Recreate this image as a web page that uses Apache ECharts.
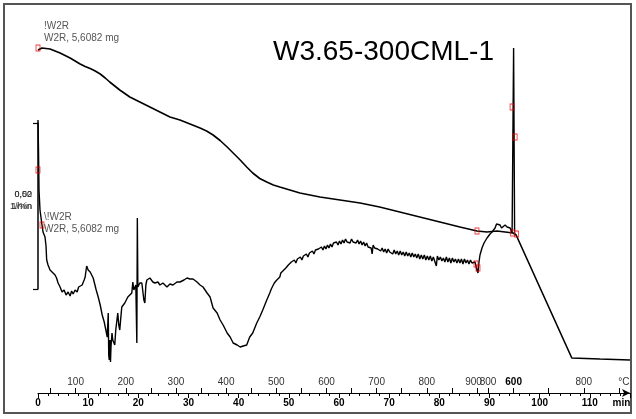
<!DOCTYPE html>
<html><head><meta charset="utf-8">
<script src="https://cdn.jsdelivr.net/npm/echarts@6/dist/echarts.min.js"></script>
<style>html,body{margin:0;padding:0;background:#fff}#c{width:636px;height:419px}</style>
</head><body><div id="c"></div>
<script>
// ---- data (time in min) ----
var tgTime  = [0,0.8,2.4,4.4,6.4,8.4,9.4,10.4,11.4,12.4,13.4,14.3,15.3,16.3,18.3,20.3,22.3,24.3,26.3,28.3,30.3,32.3,33.6,34.9,36.3,37.7,39.0,40.3,41.6,42.8,44.2,45.6,46.9,48.2,50.2,52.2,56.2,60.2,64.2,68.1,72.1,76.1,80.1,84.1,87.5,89.5,91.5,93.1,94.7,95.3,106.4,112.0,118.0];
var tgValue = [99.6,100,99.8,99.0,98.0,96.8,96.3,95.9,95.4,94.8,94.0,93.2,92.4,91.6,90.2,89.2,88.2,87.2,86.2,85.6,84.8,84.0,83.4,82.6,81.5,80.2,78.9,77.6,76.2,75.0,73.9,73.2,72.6,72.2,71.6,71.0,70.2,69.6,69.0,68.2,67.2,66.2,65.2,64.2,63.4,63.2,63.4,63.2,63.0,62.6,38.0,37.8,37.6];

var dtgTime = [0,0.1,0.2,0.4,0.74,1.0,1.4,1.6,1.73,2.0,2.4,2.8,3.1,3.4,3.7,4.0,4.4,4.8,5.2,5.6,6.0,6.4,6.7,7.0,7.4,7.8,8.1,8.4,8.8,9.2,9.4,9.7,10.0,10.4,11.0,11.6,12.0,12.4,12.8,13.2,13.4,13.8,14.0,14.1,14.2,14.35,14.45,14.55,14.75,14.9,15.3,15.5,15.9,16.1,16.3,16.5,16.7,17.3,17.9,18.3,18.7,18.9,19.1,19.3,19.5,19.7,19.8,19.9,20.3,20.7,21.1,21.3,21.5,21.7,22.3,22.9,23.3,23.9,24.3,24.9,25.7,26.3,26.9,27.7,28.3,29.1,29.7,30.3,30.9,31.7,32.3,32.9,33.7,34.3,34.9,35.7,36.3,36.9,37.7,38.3,38.9,39.7,40.3,40.9,41.6,42.2,42.8,43.6,44.2,44.8,45.6,46.2,46.5,46.8,47.1,47.4,47.6,47.9,48.2,48.4,48.6,48.8,49.1,49.4,49.6,49.9,50.2,50.5,50.8,51.1,51.4,51.7,52.0,52.3,52.6,52.9,53.2,53.5,53.8,54.1,54.4,54.7,55.0,55.3,55.6,55.9,56.2,56.5,56.8,57.1,57.4,57.7,58.0,58.3,58.6,58.9,59.2,59.5,59.8,60.1,60.4,60.7,61.0,61.3,61.6,61.9,62.2,62.5,62.8,63.1,63.4,63.7,64.0,64.3,64.6,64.9,65.2,65.5,65.8,66.1,66.4,66.6,66.8,67.1,67.4,67.7,68.0,68.3,68.6,68.9,69.2,69.5,69.8,70.1,70.4,70.7,71.0,71.3,71.6,71.9,72.2,72.5,72.8,73.1,73.4,73.7,74.0,74.3,74.6,74.9,75.2,75.5,75.8,76.1,76.4,76.7,77.0,77.3,77.6,77.9,78.2,78.5,78.8,79.1,79.4,79.6,79.9,80.2,80.5,80.8,81.1,81.4,81.7,82.0,82.3,82.6,82.9,83.2,83.5,83.8,84.1,84.4,84.7,85.0,85.3,85.6,85.9,86.2,86.5,86.8,87.1,87.3,87.5,87.7,87.9,88.1,88.5,88.9,89.5,90.1,90.5,91.1,91.4,91.7,92.1,92.4,92.7,93.1,93.5,93.8,94.1,94.5,94.8,95.0];
var dtgValue = [-1.16,-1.46,-1.86,-2.06,-2.19,-2.28,-2.33,-2.42,-2.56,-2.61,-2.66,-2.68,-2.66,-2.71,-2.74,-2.79,-2.83,-2.88,-2.86,-2.91,-2.88,-2.92,-2.87,-2.90,-2.86,-2.88,-2.83,-2.84,-2.81,-2.76,-2.73,-2.62,-2.66,-2.68,-2.74,-2.86,-2.93,-3.01,-3.11,-3.18,-3.23,-3.33,-3.09,-3.51,-3.56,-3.36,-3.58,-3.43,-3.29,-3.36,-3.41,-3.26,-3.09,-3.21,-3.26,-3.14,-3.03,-2.99,-2.93,-2.91,-2.89,-2.78,-2.86,-2.84,-2.81,-3.39,-2.14,-2.83,-2.79,-2.79,-2.96,-2.99,-2.81,-2.76,-2.74,-2.78,-2.79,-2.78,-2.81,-2.79,-2.83,-2.80,-2.81,-2.78,-2.78,-2.76,-2.74,-2.75,-2.75,-2.78,-2.81,-2.83,-2.89,-2.93,-3.04,-3.09,-3.16,-3.21,-3.29,-3.33,-3.39,-3.41,-3.43,-3.42,-3.41,-3.33,-3.29,-3.19,-3.13,-3.06,-2.96,-2.89,-2.85,-2.83,-2.79,-2.80,-2.76,-2.74,-2.73,-2.69,-2.71,-2.67,-2.68,-2.64,-2.66,-2.61,-2.63,-2.58,-2.60,-2.56,-2.59,-2.55,-2.57,-2.53,-2.56,-2.52,-2.54,-2.50,-2.53,-2.49,-2.51,-2.47,-2.50,-2.46,-2.48,-2.45,-2.47,-2.43,-2.46,-2.42,-2.45,-2.41,-2.44,-2.40,-2.43,-2.39,-2.41,-2.38,-2.41,-2.37,-2.40,-2.36,-2.39,-2.35,-2.38,-2.36,-2.39,-2.35,-2.38,-2.36,-2.39,-2.36,-2.40,-2.37,-2.41,-2.38,-2.42,-2.39,-2.43,-2.41,-2.44,-2.50,-2.41,-2.44,-2.42,-2.45,-2.43,-2.47,-2.44,-2.48,-2.45,-2.49,-2.45,-2.48,-2.46,-2.50,-2.46,-2.50,-2.47,-2.51,-2.47,-2.51,-2.48,-2.52,-2.48,-2.52,-2.49,-2.53,-2.49,-2.53,-2.50,-2.54,-2.50,-2.55,-2.51,-2.55,-2.51,-2.56,-2.52,-2.56,-2.52,-2.57,-2.53,-2.55,-2.62,-2.52,-2.56,-2.53,-2.57,-2.54,-2.58,-2.53,-2.58,-2.54,-2.59,-2.54,-2.58,-2.55,-2.59,-2.55,-2.59,-2.55,-2.60,-2.55,-2.59,-2.56,-2.60,-2.56,-2.59,-2.57,-2.58,-2.62,-2.66,-2.69,-2.58,-2.51,-2.44,-2.39,-2.34,-2.30,-2.28,-2.24,-2.20,-2.22,-2.21,-2.24,-2.23,-2.21,-2.23,-2.25,-2.24,-2.29,-0.44,-2.30];

var tgMarkTime = [0, 87.5, 94.6];
var tgMarkValue = [100, 63.4, 63.0];
var dtgMarkTime = [0, 0.8, 87.3, 87.7, 94.5, 95.1, 95.4];
var dtgMarkValue = [-1.66, -2.21, -2.60, -2.64, -1.03, -1.33, -2.30];

var timeLabels = [0,10,20,30,40,50,60,70,80,90,100,110];
var tempLabelTime = [7.5,17.5,27.5,37.5,47.5,57.5,67.5,77.5,86.8,89.7,94.8,108.8,116.8];
var tempLabelText = ['100','200','300','400','500','600','700','800','900','800','600','800','°C'];
var tempTickTime = [2.5,7.5,12.5,17.5,22.5,27.5,32.5,37.5,42.5,47.5,52.5,57.5,62.5,67.5,72.5,77.5,82.5,87.5,89.7,94.8,101.8,108.8,115.8];

function zip(a,b){return a.map(function(v,i){return [v,b[i]];});}

var chart = echarts.init(document.getElementById('c'), null, {renderer:'canvas'});
var F = 'Liberation Sans';
chart.setOption({
  animation:false,
  backgroundColor:'#fff',
  textStyle:{fontFamily:F},
  title:{text:'W3.65-300CML-1', left:268, top:33, textStyle:{fontSize:28, fontWeight:'normal', color:'#000', fontFamily:F}},
  grid:[
    {left:38, right:6, top:4, bottom:26},
    {left:38, width:1, top:123, height:166}
  ],
  xAxis:[
    {type:'value', gridIndex:0, min:0, max:118, interval:10, position:'bottom',
     axisLine:{show:true, onZero:false, lineStyle:{color:'#000', width:1.2}, symbol:['none','arrow'], symbolSize:[6,8]},
     axisTick:{show:true, length:5, lineStyle:{color:'#000'}},
     minorTick:{show:true, splitNumber:5, length:3, lineStyle:{color:'#000'}},
     axisLabel:{customValues:timeLabels.concat([116.3]), color:'#000', fontSize:10, fontWeight:'bold', margin:5,
       formatter:function(v){return v>115?'min':String(v);}},
     splitLine:{show:false}},
    {type:'value', gridIndex:0, min:0, max:118, position:'bottom',
     axisLine:{show:false, onZero:false},
     axisTick:{show:true, inside:true, length:5, customValues:tempTickTime, lineStyle:{color:'#000'}},
     axisLabel:{show:true, inside:true, customValues:tempLabelTime, color:'#333', fontSize:10, margin:6,
       formatter:function(v){var i=tempLabelTime.indexOf(v); if(i<0) return ''; var s=tempLabelText[i];
         if(i===10) return '{b|'+s+'}'; return s;},
       rich:{b:{fontWeight:'bold', color:'#000', fontSize:10}}},
     splitLine:{show:false}},
    {type:'value', gridIndex:1, show:false, min:0, max:1}
  ],
  yAxis:[
    {type:'value', gridIndex:0, min:31, max:108.8, show:false},
    {type:'value', gridIndex:0, min:-3.89, max:0, show:false},
    {type:'value', gridIndex:1, min:0, max:1, interval:1,
     axisLine:{show:true, onZero:false, lineStyle:{color:'#000', width:1.5}},
     axisTick:{show:true, length:5, lineStyle:{color:'#000', width:1.2}},
     axisLabel:{show:false}, splitLine:{show:false}}
  ],
  series:[
    {type:'line', name:'TG', xAxisIndex:0, yAxisIndex:0, data:zip(tgTime,tgValue), symbol:'none',
     lineStyle:{color:'#000', width:1.6}},
    {type:'line', name:'DTG', xAxisIndex:0, yAxisIndex:1, data:zip(dtgTime,dtgValue), symbol:'none',
     lineStyle:{color:'#000', width:1.4}},
    {type:'scatter', xAxisIndex:0, yAxisIndex:0, data:zip(tgMarkTime,tgMarkValue), symbol:'rect', symbolSize:[4,6],
     itemStyle:{color:'rgba(0,0,0,0)', borderColor:'#e00', borderWidth:1}, z:5},
    {type:'scatter', xAxisIndex:0, yAxisIndex:1, data:zip(dtgMarkTime,dtgMarkValue), symbol:'rect', symbolSize:[4,6],
     itemStyle:{color:'rgba(0,0,0,0)', borderColor:'#e00', borderWidth:1}, z:5}
  ],
  graphic:[
    {type:'rect', shape:{x:4,y:4,width:627,height:409}, style:{fill:'none', stroke:'#555', lineWidth:2}, silent:true},
    {type:'text', left:44, top:21, style:{text:'!W2R', fill:'#555', font:'10px "Liberation Sans"'}},
    {type:'text', left:44, top:33, style:{text:'W2R, 5,6082 mg', fill:'#555', font:'10px "Liberation Sans"'}},
    {type:'text', left:44, top:212, style:{text:'\\!W2R', fill:'#555', font:'10px "Liberation Sans"'}},
    {type:'text', left:44, top:224, style:{text:'W2R, 5,6082 mg', fill:'#555', font:'10px "Liberation Sans"'}},
    {type:'text', right:604, top:190, style:{text:'0,50', fill:'#333', font:'9px "Liberation Sans"', align:'right'}},
    {type:'text', right:604, top:190, style:{text:'0,02', fill:'#333', font:'9px "Liberation Sans"', align:'right'}},
    {type:'text', right:604, top:202, style:{text:'1/min', fill:'#333', font:'9px "Liberation Sans"', align:'right'}},
    {type:'text', right:604, top:202, style:{text:'1/%n', fill:'#333', font:'9px "Liberation Sans"', align:'right'}}
  ]
});
</script></body></html>
